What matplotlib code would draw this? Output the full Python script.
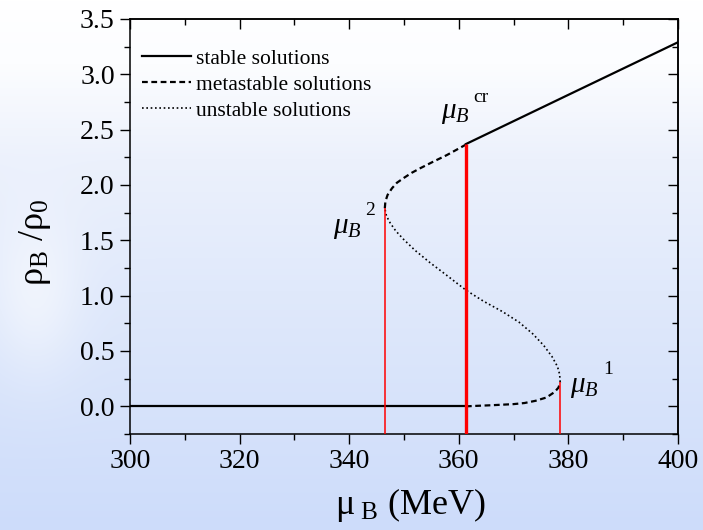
import numpy as np
import matplotlib
matplotlib.use("Agg")
import matplotlib.pyplot as plt
from matplotlib.ticker import MultipleLocator

plt.rcParams['font.family'] = ['Liberation Serif', 'DejaVu Serif']
plt.rcParams['mathtext.fontset'] = 'custom'
plt.rcParams['mathtext.rm'] = 'Liberation Serif'
plt.rcParams['mathtext.it'] = 'Liberation Serif:italic'

# branches of rho_B/rho_0 vs mu_B (MeV)
stable_low_x = [300.0, 361.3]
stable_low_y = [0.0, 0.0]
meta_low_x = [361.3, 362.6, 366.0, 370.0, 372.0, 374.0, 376.0, 377.5, 378.2, 378.5]
meta_low_y = [0.0, 0.003, 0.01, 0.02, 0.03, 0.05, 0.08, 0.13, 0.17, 0.22]
unstable_x = [378.5, 378.4, 378.0, 377.0, 375.5, 373.5, 371.0, 368.0, 364.5, 361.3,
              357.5, 354.7, 352.0, 349.9, 348.5, 347.5, 346.8, 346.5]
unstable_y = [0.22, 0.29, 0.36, 0.45, 0.55, 0.655, 0.76, 0.855, 0.95, 1.05,
              1.195, 1.30, 1.41, 1.51, 1.585, 1.655, 1.72, 1.79]
meta_high_x = [346.5, 346.6, 347.0, 347.8, 348.7, 350.0, 351.4, 352.9, 355.3, 357.8, 361.3]
meta_high_y = [1.79, 1.85, 1.91, 1.97, 2.02, 2.065, 2.11, 2.15, 2.21, 2.27, 2.365]
stable_high_x = [361.3, 380.0, 400.0]
stable_high_y = [2.37, 2.815, 3.29]

# mu_B^2, mu_B^cr, mu_B^1 and the density where each red line ends
mark_x = [346.5, 361.3, 378.5]
mark_top = [1.79, 2.37, 0.22]
mark_lw = [1.1, 2.4, 1.1]
mark_sup = ['2', 'cr', '1']

fig = plt.figure(figsize=(7.03, 5.30), dpi=100)

# soft white-to-blue backdrop
bg = fig.add_axes([0, 0, 1, 1], zorder=-10)
h, w = 530, 703
t = np.linspace(0, 1, h)
stops_t = [0.0, 0.12, 0.3, 0.55, 1.0]
cols = np.array([[255, 255, 255], [252, 253, 255], [236, 241, 252],
                 [224, 233, 251], [205, 220, 250]], float)
img = np.zeros((h, w, 3))
for c in range(3):
    img[:, :, c] = np.interp(t, stops_t, cols[:, c])[:, None]
yy, xx = np.mgrid[0:h, 0:w]
glow = np.exp(-(((xx - 35) / 45.0) ** 2 + ((yy - 290) / 80.0) ** 2))
img = img + (255 - img) * 0.5 * glow[:, :, None]
bg.imshow(img / 255.0, aspect='auto', extent=[0, 1, 0, 1])
bg.axis('off')

ax = fig.add_axes([130 / 703, 96 / 530, 548 / 703, 415 / 530])
ax.patch.set_alpha(0)

ax.plot(stable_low_x, stable_low_y, color='black', lw=1.6, label='stable solutions')
ax.plot(meta_low_x, meta_low_y, color='black', lw=1.6, linestyle=(0, (2.6, 1.6)),
        label='metastable solutions')
ax.plot(unstable_x, unstable_y, color='black', lw=1.2, linestyle=(0, (1, 1.6)),
        label='unstable solutions')
ax.plot(meta_high_x, meta_high_y, color='black', lw=1.6, linestyle=(0, (2.6, 1.6)))
ax.plot(stable_high_x, stable_high_y, color='black', lw=1.6)

for x, y, lw in zip(mark_x, mark_top, mark_lw):
    ax.plot([x, x], [-0.25, y], color='red', lw=lw, zorder=3, solid_capstyle='butt')

# labels for the special chemical potentials
lab_pos = [(337.0, 1.57), (356.75, 2.606), (380.3, 0.126)]
sup_pos = [(342.9, 1.73), (362.6, 2.75), (386.3, 0.29)]
for (lx, ly), (sx, sy), s in zip(lab_pos, sup_pos, mark_sup):
    ax.text(lx, ly, r'$\mu_B$', fontsize=21, ha='left', va='baseline')
    ax.text(sx, sy, s, fontsize=14, ha='left', va='baseline')

ax.set_xlim(300, 400)
ax.set_ylim(-0.25, 3.5)
ax.xaxis.set_major_locator(MultipleLocator(20))
ax.xaxis.set_minor_locator(MultipleLocator(10))
ax.yaxis.set_major_locator(MultipleLocator(0.5))
ax.yaxis.set_minor_locator(MultipleLocator(0.25))
ax.yaxis.set_major_formatter(plt.FormatStrFormatter('%.1f'))
ax.tick_params(which='both', direction='out', width=1.0, labelsize=20, pad=4)
ax.tick_params(which='major', length=7)
ax.tick_params(which='minor', length=4)
for sp in ax.spines.values():
    sp.set_linewidth(1.1)

# mirror ticks pointing inward on top and right
secx = ax.secondary_xaxis('top')
secy = ax.secondary_yaxis('right')
secx.xaxis.set_major_locator(MultipleLocator(20))
secx.xaxis.set_minor_locator(MultipleLocator(10))
secy.yaxis.set_major_locator(MultipleLocator(0.5))
secy.yaxis.set_minor_locator(MultipleLocator(0.25))
for sec in (secx, secy):
    sec.tick_params(which='both', direction='in', width=1.0,
                    labeltop=False, labelright=False)
    sec.tick_params(which='major', length=7)
    sec.tick_params(which='minor', length=4)
    sec.spines[:].set_linewidth(1.1)

fig.text(35 / 703, 1 - 242 / 530, r'ρ$_{\mathrm{B}}$ /ρ$_{\mathrm{0}}$', rotation=90,
         fontsize=26, ha='center', va='center')
fig.text(411 / 703, 1 - 505 / 530, r'μ$_{\mathrm{\ B}}$ (MeV)', fontsize=26,
         ha='center', va='center')

ax.legend(loc='upper left', bbox_to_anchor=(-0.01, 0.97), frameon=False, fontsize=15.5,
          handlelength=2.3, handletextpad=0.2, labelspacing=0.28, borderaxespad=0.4)

fig.savefig('out.png', dpi=100)
